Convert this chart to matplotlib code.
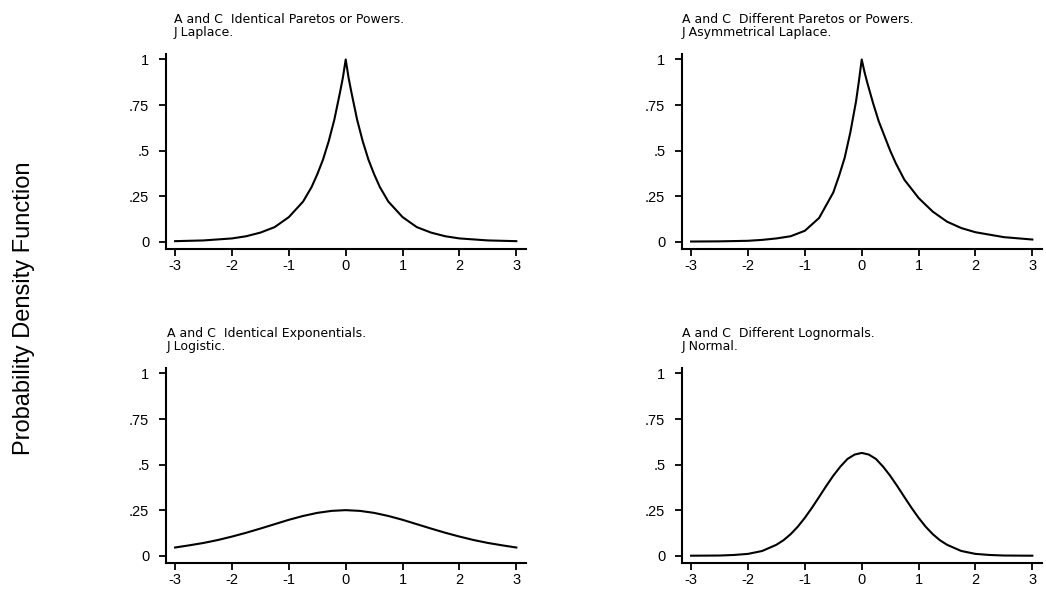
import matplotlib
matplotlib.use("Agg")
import matplotlib.pyplot as plt

# values
lap_x = [-3, -2.5, -2, -1.75, -1.5, -1.25, -1, -0.75, -0.6, -0.5, -0.4, -0.3, -0.2, -0.1, -0.05, 0,
         0.05, 0.1, 0.2, 0.3, 0.4, 0.5, 0.6, 0.75, 1, 1.25, 1.5, 1.75, 2, 2.5, 3]
lap_y = [0.003, 0.007, 0.018, 0.03, 0.05, 0.08, 0.135, 0.22, 0.30, 0.37, 0.45, 0.55, 0.67, 0.82, 0.90, 1.0,
         0.90, 0.82, 0.67, 0.55, 0.45, 0.37, 0.30, 0.22, 0.135, 0.08, 0.05, 0.03, 0.018, 0.007, 0.003]

asy_x = [-3, -2.5, -2, -1.75, -1.5, -1.25, -1, -0.75, -0.5, -0.4, -0.3, -0.2, -0.1, -0.05, 0,
         0.05, 0.1, 0.2, 0.3, 0.4, 0.5, 0.6, 0.75, 1, 1.25, 1.5, 1.75, 2, 2.5, 3]
asy_y = [0.001, 0.002, 0.005, 0.01, 0.018, 0.03, 0.06, 0.13, 0.27, 0.36, 0.46, 0.60, 0.77, 0.88, 1.0,
         0.93, 0.87, 0.76, 0.66, 0.58, 0.50, 0.43, 0.34, 0.24, 0.165, 0.11, 0.075, 0.052, 0.025, 0.012]

logi_x = [-3, -2.75, -2.5, -2.25, -2, -1.75, -1.5, -1.25, -1, -0.75, -0.5, -0.25, 0,
          0.25, 0.5, 0.75, 1, 1.25, 1.5, 1.75, 2, 2.25, 2.5, 2.75, 3]
logi_y = [0.045, 0.057, 0.070, 0.086, 0.105, 0.126, 0.149, 0.173, 0.197, 0.218, 0.235, 0.246, 0.25,
          0.246, 0.235, 0.218, 0.197, 0.173, 0.149, 0.126, 0.105, 0.086, 0.070, 0.057, 0.045]

norm_x = [-3, -2.5, -2.25, -2, -1.75, -1.5, -1.375, -1.25, -1.125, -1, -0.875, -0.75, -0.625, -0.5,
          -0.375, -0.25, -0.125, 0, 0.125, 0.25, 0.375, 0.5, 0.625, 0.75, 0.875, 1, 1.125, 1.25,
          1.375, 1.5, 1.75, 2, 2.25, 2.5, 3]
norm_y = [0.0, 0.001, 0.004, 0.010, 0.026, 0.060, 0.085, 0.118, 0.159, 0.208, 0.263, 0.322, 0.382, 0.439,
          0.489, 0.531, 0.555, 0.564, 0.555, 0.531, 0.489, 0.439, 0.382, 0.322, 0.263, 0.208, 0.159, 0.118,
          0.085, 0.060, 0.026, 0.010, 0.004, 0.001, 0.0]

titles = ["A and C  Identical Paretos or Powers.\nJ Laplace.",
          "A and C  Different Paretos or Powers.\nJ Asymmetrical Laplace.",
          "A and C  Identical Exponentials.\nJ Logistic.",
          "A and C  Different Lognormals.\nJ Normal."]
xticks = [-3, -2, -1, 0, 1, 2, 3]
yticks = [0, 0.25, 0.5, 0.75, 1]
ytick_labels = ["0", ".25", ".5", ".75", "1"]

W, H = 1046, 590
fig = plt.figure(figsize=(W / 100, H / 100), dpi=100)

# left, top of each panel in pixels, and title x position
panels = [(166, 54, 174), (682, 54, 682), (166, 368, 167), (682, 368, 682)]
curves = [(lap_x, lap_y), (asy_x, asy_y), (logi_x, logi_y), (norm_x, norm_y)]
pw, ph = 360, 195

for (left, top, tx), (xs, ys), title in zip(panels, curves, titles):
    ax = fig.add_axes([left / W, 1 - (top + ph) / H, pw / W, ph / H])
    ax.plot(xs, ys, color="black", lw=1.5)
    ax.set_xlim(-3.16, 3.17)
    ax.set_ylim(-0.04, 1.03)
    ax.set_xticks(xticks)
    ax.set_xticklabels([str(t) for t in xticks])
    ax.set_yticks(yticks)
    ax.set_yticklabels(ytick_labels)
    for s in ["top", "right"]:
        ax.spines[s].set_visible(False)
    for s in ["left", "bottom"]:
        ax.spines[s].set_linewidth(1.5)
    ax.tick_params(direction="out", length=5, width=1.3, labelsize=10.5, colors="black")
    ax.tick_params(axis="y", pad=7)
    ax.tick_params(axis="x", pad=2)
    for lab in ax.get_xticklabels() + ax.get_yticklabels():
        lab.set_fontfamily("Liberation Sans")
    fig.text(tx / W, 1 - (top - 41) / H, title, ha="left", va="top",
             fontsize=9, family="DejaVu Sans", linespacing=1.0)

fig.text(24 / W, 1 - 308 / H, "Probability Density Function", rotation=90,
         ha="center", va="center", fontsize=17, family="Liberation Sans")

fig.savefig("out.png", dpi=100)
